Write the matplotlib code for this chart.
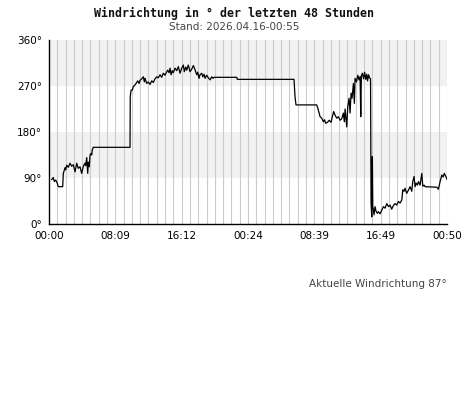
import matplotlib

matplotlib.use("Agg")
import matplotlib.pyplot as plt
import numpy as np

TITLE = "Windrichtung in ° der letzten 48 Stunden"
SUBTITLE = "Stand: 2026.04.16-00:55"
FOOTER = "Aktuelle Windrichtung 87°"

# stunden seit beginn / windrichtung in grad
hours = [
    0.33, 0.52, 0.64, 0.81, 0.97, 1.12, 1.65, 1.73, 1.93, 2.01, 2.14, 2.33,
    2.53, 2.74, 2.93, 3.14, 3.34, 3.53, 3.74, 3.94, 4.14, 4.34, 4.42, 4.55,
    4.67, 4.74, 4.86, 4.95, 5.07, 5.15, 5.22, 5.34, 9.77,
    9.80, 9.90, 10.05, 10.17, 10.37, 10.58, 10.70, 10.86, 10.98, 11.18, 11.38,
    11.50, 11.58, 11.79, 11.98, 12.18, 12.39, 12.58, 12.79, 12.99, 13.18,
    13.39, 13.59, 13.79, 13.99, 14.20, 14.32, 14.48, 14.60, 14.72, 14.87,
    14.99, 15.20, 15.40, 15.60, 15.80, 16.01, 16.20, 16.32, 16.49, 16.61,
    16.80, 17.01, 17.21, 17.41, 17.61, 17.82, 17.94, 18.09, 18.21, 18.42,
    18.54, 18.70, 18.82, 19.02, 19.22, 19.42, 19.63, 19.78, 19.90, 22.64,
    22.71, 29.55, 29.67, 29.79, 32.29, 32.45, 32.69, 32.89, 33.09, 33.23,
    33.37, 33.59, 33.78, 34.02, 34.17, 34.34, 34.50, 34.70, 34.90, 35.10,
    35.31, 35.50, 35.62, 35.71, 35.91, 36.03, 36.19, 36.31, 36.43, 36.55,
    36.71, 36.83, 36.91, 37.09, 37.24, 37.39, 37.52, 37.60, 37.67, 37.79,
    37.94, 38.06, 38.20, 38.32, 38.42, 38.54, 38.66, 38.78, 38.84, 38.93,
    39.00, 39.05, 39.12, 39.20, 39.32, 39.44, 39.60, 39.72, 39.93, 40.13,
    40.33, 40.53, 40.74, 40.93, 41.13, 41.33, 41.53, 41.74, 41.94, 42.14,
    42.34, 42.55, 42.67, 42.82, 42.94, 43.14, 43.34, 43.55, 43.75, 43.87,
    44.03, 44.15, 44.27, 44.43, 44.55, 44.75, 44.96, 45.08, 45.24, 45.36,
    46.77, 46.96, 47.17, 47.37, 47.53, 47.68, 47.83, 47.97, 48.0,
]
direction = [
    87, 91, 83, 86, 81, 73, 73, 99, 110, 106, 115, 111,
    119, 113, 116, 102, 119, 109, 112, 99, 113, 119, 114, 130,
    99, 121, 112, 135, 138, 135, 145, 150, 150,
    249, 262, 262, 269, 272, 277, 280, 275, 281, 284, 288,
    278, 285, 275, 278, 273, 280, 277, 284, 288, 286,
    292, 287, 295, 291, 298, 301, 296, 305, 292, 300,
    296, 305, 300, 308, 295, 305, 311, 298, 307, 301,
    311, 298, 303, 310, 302, 292, 297, 285, 292, 295,
    288, 293, 285, 291, 286, 282, 288, 285, 287, 287,
    283, 283, 249, 233, 233, 225, 210, 207, 200, 204,
    197, 199, 203, 199, 210, 220, 213, 207, 210, 203,
    206, 217, 200, 225, 190, 229, 246, 217, 256, 246,
    275, 236, 285, 278, 291, 282, 288, 210, 290, 295,
    284, 297, 283, 293, 280, 292, 286, 284, 40, 14,
    132, 34, 28, 18, 34, 25, 21, 24, 20, 27,
    34, 31, 40, 34, 37, 29, 36, 40, 37, 44,
    41, 47, 67, 64, 70, 60, 66, 73, 64, 83,
    93, 73, 80, 76, 83, 76, 99, 74, 76, 73,
    72, 68, 83, 96, 92, 99, 94, 89, 87,
]

x_ticks = [0, 8, 16, 24, 32, 40, 48]
x_labels = ["00:00", "08:09", "16:12", "00:24", "08:39", "16:49", "00:50"]
y_ticks = [0, 90, 180, 270, 360]
y_labels = ["0°", "90°", "180°", "270°", "360°"]

fig = plt.figure(figsize=(4.68, 4.15), dpi=100)
ax = fig.add_axes([49 / 468, 1 - 224 / 415, 398 / 468, 184 / 415])

# graue baender 90-180 und 270-360
for lo in (90, 270):
    ax.axhspan(lo, lo + 90, color="#f2f2f2", zorder=0, linewidth=0)
for h in range(1, 49):
    ax.axvline(h, color="#cccccc", linewidth=0.8, zorder=1)

ax.plot(hours, direction, color="black", linewidth=0.9, zorder=3)

ax.set_xlim(0, 48)
ax.set_ylim(0, 360)
ax.set_xticks(x_ticks)
ax.set_xticklabels(x_labels)
ax.set_yticks(y_ticks)
ax.set_yticklabels(y_labels)
ax.tick_params(axis="both", length=0, labelsize=7.5, pad=5)
for side in ("top", "right"):
    ax.spines[side].set_visible(False)
ax.spines["left"].set_linewidth(1.0)
ax.spines["bottom"].set_linewidth(1.0)

fig.text(0.5, 1 - 13 / 415, TITLE, ha="center", va="center",
         family="DejaVu Sans Mono", weight="bold", fontsize=8.4, color="#111111")
fig.text(0.5, 1 - 27 / 415, SUBTITLE, ha="center", va="center",
         fontsize=7.5, color="#444444")
fig.text(447 / 468, 1 - 284 / 415, FOOTER, ha="right", va="center",
         fontsize=7.5, color="#444444")

fig.savefig("out.png", dpi=100)
